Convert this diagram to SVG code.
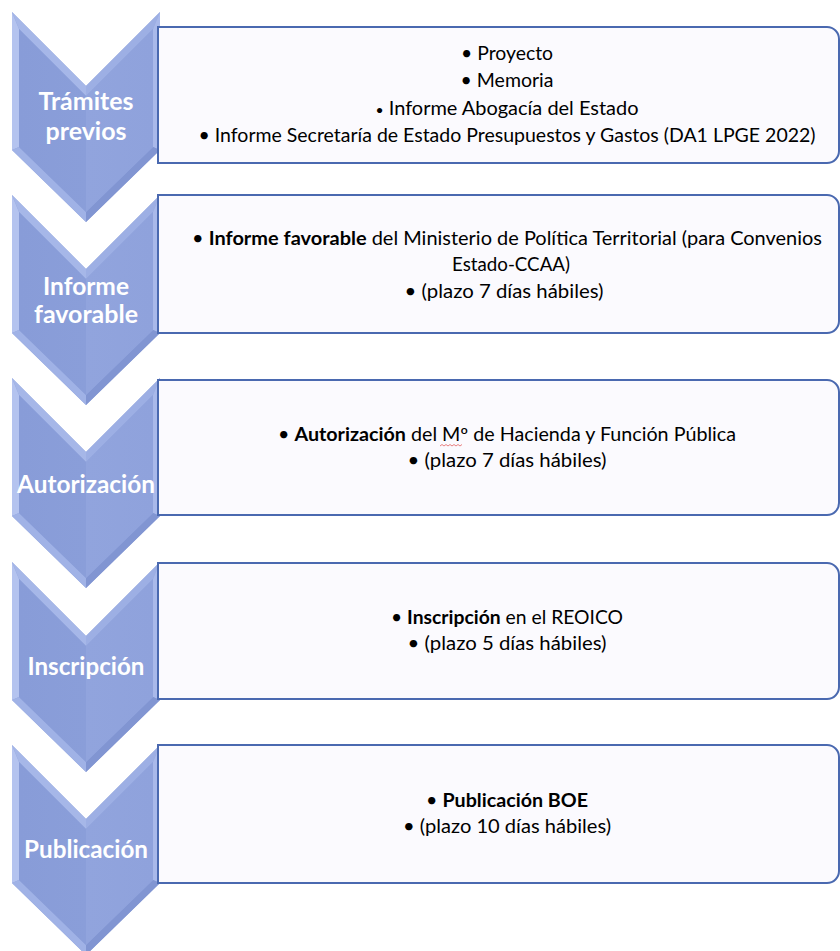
<svg xmlns="http://www.w3.org/2000/svg" xmlns:xlink="http://www.w3.org/1999/xlink" width="840" height="951" viewBox="0 0 840 951">
<defs>
<style>
.box{fill:#FBFAFE;stroke:#4A69B0;stroke-width:2}
.lbl{font-family:Lato,"Liberation Sans",sans-serif;font-weight:700;font-size:24px;fill:#FFFFFF;text-anchor:middle}
.txt{font-family:Lato,"Liberation Sans",sans-serif;font-size:18.5px;fill:#000000;text-anchor:middle}
.b{font-weight:700}
.f-l{fill:#B4C3EF}
.f-tl{fill:#A6B7E8}
.f-tr{fill:#9DAFE4}
.f-r{fill:#A9B9EA}
.f-br{fill:#8195D2}
.f-bl{fill:#A0B2E6}
.spell{fill:none;stroke:#E57373;stroke-width:0.9}
</style>
<linearGradient id="face" x1="0" y1="0" x2="1" y2="0">
<stop offset="0" stop-color="#889CD8"/>
<stop offset="0.5" stop-color="#8A9ED9"/>
<stop offset="0.5" stop-color="#91A4DD"/>
<stop offset="1" stop-color="#8FA2DC"/>
</linearGradient>
<g id="chev">
<polygon points="0,0 74,74 148,0 148,138 74,210 0,138" fill="#8EA2DC"/>
<polygon class="f-l" points="0,0 7,17 7,135 0,138"/>
<polygon class="f-tl" points="0,0 74,74 74,84 7,17"/>
<polygon class="f-tr" points="74,74 148,0 141,17 74,84"/>
<polygon class="f-r" points="148,0 148,138 141,135 141,17"/>
<polygon class="f-br" points="148,138 74,210 74,200 141,135"/>
<polygon class="f-bl" points="0,138 7,135 74,200 74,210"/>
<polygon points="7,17 74,84 141,17 141,135 74,200 7,135" fill="url(#face)"/>
</g>
</defs>
<rect x="0" y="0" width="840" height="951" fill="#FFFFFF"/>
<g id="connectors"></g>

<g id="node-tramites">
<use xlink:href="#chev" href="#chev" transform="translate(12,12)"/>
<text class="lbl" x="86" y="110" textLength="95" lengthAdjust="spacingAndGlyphs">Trámites</text>
<text class="lbl" x="86" y="140" textLength="81" lengthAdjust="spacingAndGlyphs">previos</text>
<path class="box" d="M158,27 H827 A12,12 0 0 1 839,39 V151 A12,12 0 0 1 827,163 H158 Z"/>
<text class="txt" x="507" y="60" textLength="92" lengthAdjust="spacingAndGlyphs">• Proyecto</text>
<text class="txt" x="507" y="87" textLength="93" lengthAdjust="spacingAndGlyphs">• Memoria</text>
<text class="txt" x="507" y="115" textLength="263" lengthAdjust="spacingAndGlyphs"><tspan font-size="13px">•</tspan> Informe Abogacía del Estado</text>
<text class="txt" x="507" y="142" textLength="617" lengthAdjust="spacingAndGlyphs">• Informe Secretaría de Estado Presupuestos y Gastos (DA1 LPGE 2022)</text>
</g>

<g id="node-informe">
<use xlink:href="#chev" href="#chev" transform="translate(12,195)"/>
<text class="lbl" x="86" y="295" textLength="86" lengthAdjust="spacingAndGlyphs">Informe</text>
<text class="lbl" x="86" y="323" textLength="104" lengthAdjust="spacingAndGlyphs">favorable</text>
<path class="box" d="M158,195 H827 A12,12 0 0 1 839,207 V321 A12,12 0 0 1 827,333 H158 Z"/>
<text class="txt" x="507" y="245" textLength="630" lengthAdjust="spacingAndGlyphs">• <tspan class="b">Informe favorable</tspan> del Ministerio de Política Territorial (para Convenios</text>
<text class="txt" x="511" y="271" textLength="118" lengthAdjust="spacingAndGlyphs">Estado-CCAA)</text>
<text class="txt" x="504" y="298" textLength="199" lengthAdjust="spacingAndGlyphs">• (plazo 7 días hábiles)</text>
</g>

<g id="node-autorizacion">
<use xlink:href="#chev" href="#chev" transform="translate(12,378)"/>
<text class="lbl" x="86" y="493" textLength="138" lengthAdjust="spacingAndGlyphs">Autorización</text>
<path class="box" d="M158,380 H827 A12,12 0 0 1 839,392 V503 A12,12 0 0 1 827,515 H158 Z"/>
<text class="txt" x="507" y="441" textLength="458" lengthAdjust="spacingAndGlyphs">• <tspan class="b">Autorización</tspan> del Mº de Hacienda y Función Pública</text>
<path class="spell" d="M440,446 l2,-1.5 l2,1.5 l2,-1.5 l2,1.5 l2,-1.5 l2,1.5 l2,-1.5 l2,1.5 l2,-1.5 l2,1.5 l2,-1.5"/>
<text class="txt" x="507" y="467" textLength="199" lengthAdjust="spacingAndGlyphs">• (plazo 7 días hábiles)</text>
</g>

<g id="node-inscripcion">
<use xlink:href="#chev" href="#chev" transform="translate(12,562)"/>
<text class="lbl" x="86" y="675" textLength="117" lengthAdjust="spacingAndGlyphs">Inscripción</text>
<path class="box" d="M158,563 H827 A12,12 0 0 1 839,575 V687 A12,12 0 0 1 827,699 H158 Z"/>
<text class="txt" x="507" y="624" textLength="232" lengthAdjust="spacingAndGlyphs">• <tspan class="b">Inscripción</tspan> en el REOICO</text>
<text class="txt" x="507" y="650" textLength="199" lengthAdjust="spacingAndGlyphs">• (plazo 5 días hábiles)</text>
</g>

<g id="node-publicacion">
<use xlink:href="#chev" href="#chev" transform="translate(12,745)"/>
<text class="lbl" x="86" y="858" textLength="124" lengthAdjust="spacingAndGlyphs">Publicación</text>
<path class="box" d="M158,745 H827 A12,12 0 0 1 839,757 V871 A12,12 0 0 1 827,883 H158 Z"/>
<text class="txt" x="507" y="807" textLength="162" lengthAdjust="spacingAndGlyphs">• <tspan class="b">Publicación BOE</tspan></text>
<text class="txt" x="507" y="833" textLength="208" lengthAdjust="spacingAndGlyphs">• (plazo 10 días hábiles)</text>
</g>
</svg>
